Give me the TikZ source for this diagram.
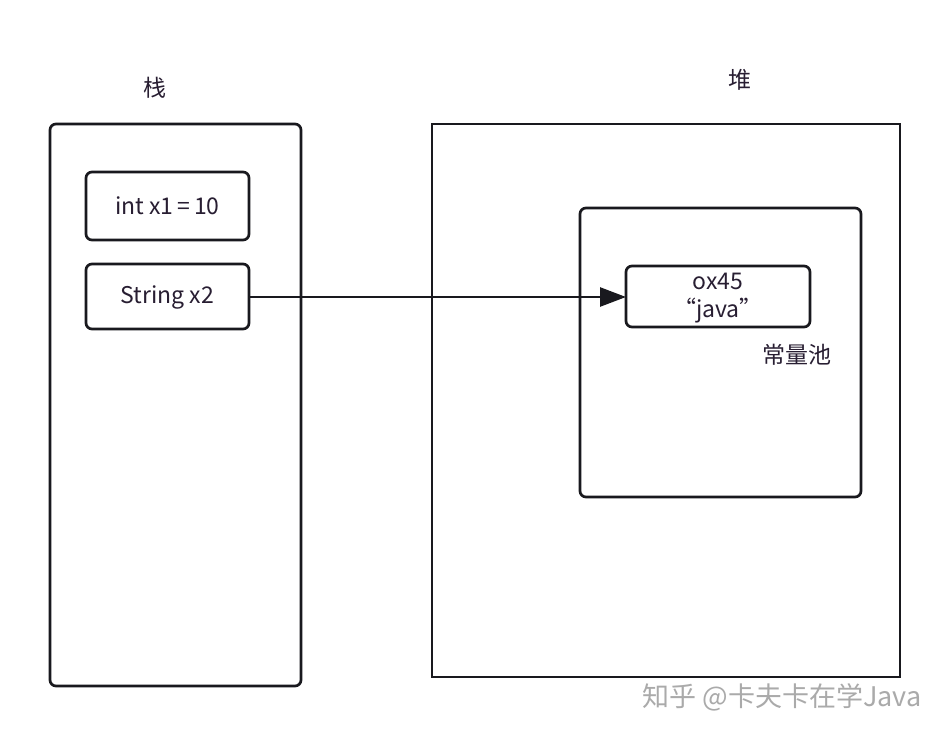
\documentclass[tikz,border=0pt]{standalone}
\usepackage{fontspec}
\setmainfont{Noto Sans CJK SC}
\usetikzlibrary{arrows.meta}
\definecolor{linec}{RGB}{25,25,30}
\definecolor{textc}{RGB}{40,30,50}
\definecolor{wmc}{RGB}{170,170,170}
\begin{document}
\begin{tikzpicture}[x=1pt,y=-1pt,
  frame/.style={draw=linec,line width=2.7pt,rounded corners=6pt},
  cell/.style={draw=linec,line width=2.7pt,rounded corners=6pt},
  lbl/.style={text=textc,font=\fontsize{23}{27}\selectfont,inner sep=0pt},
  ptr/.style={draw=linec,line width=2.6pt,-{Triangle[length=26pt,width=19pt]}}]
\useasboundingbox[fill=white] (0,0) rectangle (950,736);
% stack
\draw[frame] (50,124) rectangle (301,686);
\node[lbl] (stacklbl) at (155,88) {栈};
\draw[cell] (86,172) rectangle (249,240);
\node[lbl] (intx) at (167.5,206) {int x1\,=\,10};
\draw[cell] (86,264) rectangle (249,329);
\node[lbl] (strx) at (167.5,297) {String x2};
\coordinate (strR) at (249,297);
% heap
\draw[draw=linec,line width=2.7pt] (432,124) rectangle (900,677);
\node[lbl] (heaplbl) at (740,80) {堆};
\draw[frame] (580,208) rectangle (861,497);
\draw[cell] (626,266) rectangle (810,327);
\node[lbl] (ox) at (718,281) {ox45};
\node[lbl] (java) at (718,311) {“java”};
\coordinate (oxL) at (626,297);
\node[lbl] (pool) at (797,355) {常量池};
\draw[ptr] (strR) -- (oxL);
% watermark
\node[text=wmc,font=\fontsize{27}{30}\selectfont,inner sep=0pt] (wm) at (782,697) {知乎 @卡夫卡在学Java};
\end{tikzpicture}
\end{document}
